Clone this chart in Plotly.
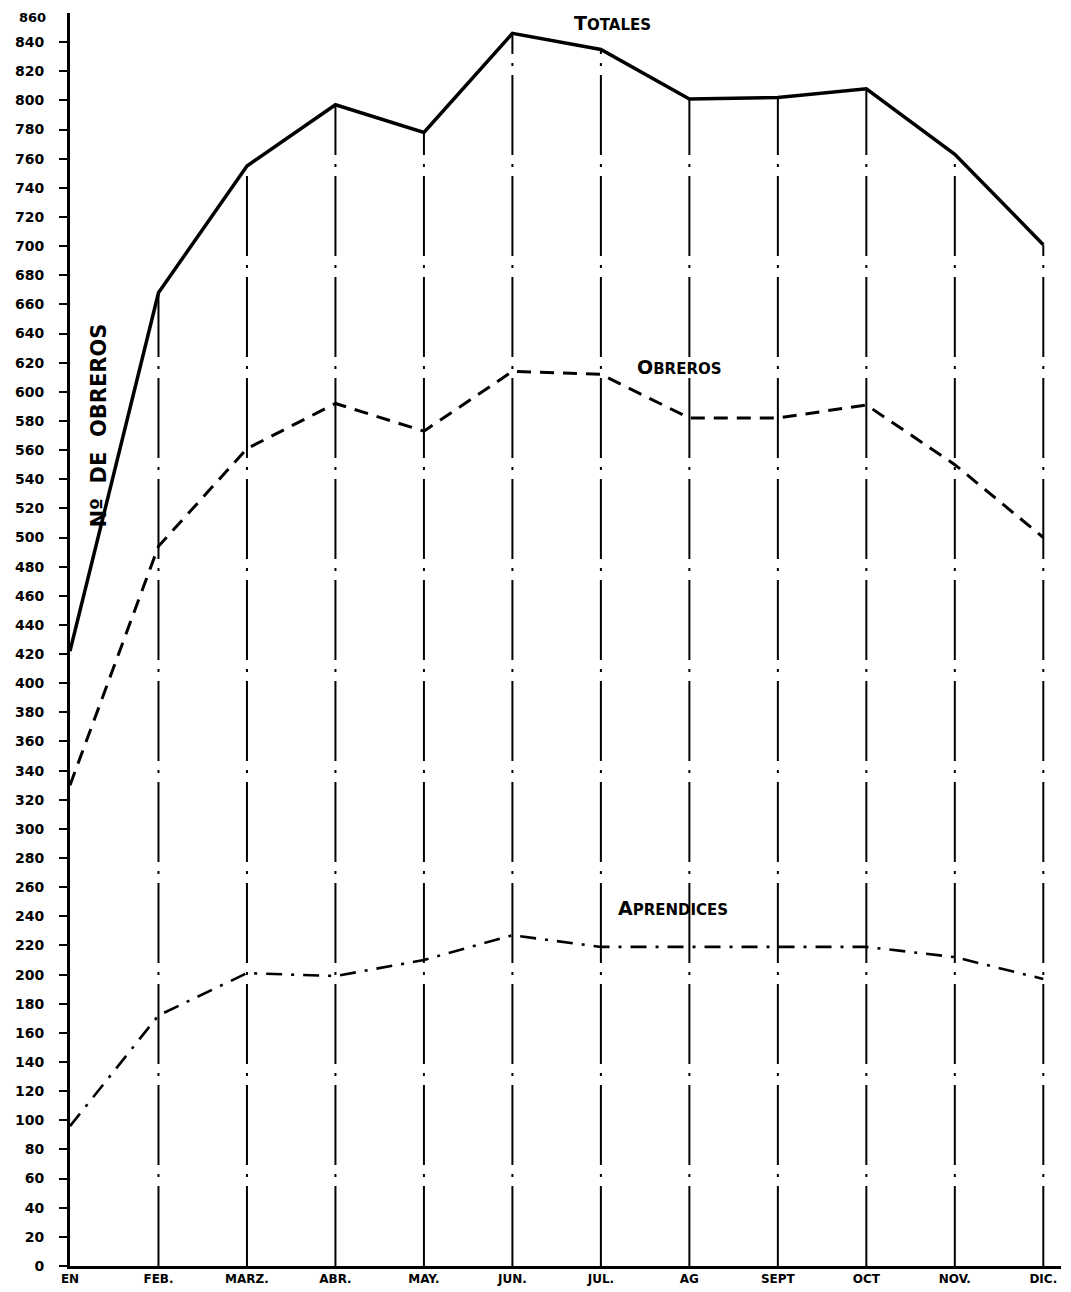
import plotly.graph_objects as go

months = ["EN", "FEB.", "MARZ.", "ABR.", "MAY.", "JUN.", "JUL.", "AG", "SEPT", "OCT", "NOV.", "DIC."]
totales = [422, 668, 755, 797, 778, 846, 835, 801, 802, 808, 763, 701]
obreros = [330, 494, 561, 592, 573, 614, 612, 582, 582, 591, 550, 500]
aprendices = [96, 172, 201, 199, 210, 227, 219, 219, 219, 219, 212, 197]
yticks = list(range(0, 861, 20))

xs = list(range(len(months)))
FONT = "DejaVu Sans"

fig = go.Figure()

# vertical dash-dot guide lines from 0 up to the total at each month
vx, vy = [], []
for i, t in zip(xs[1:], totales[1:]):
    vx += [i, i, None]
    vy += [0, t, None]
fig.add_trace(go.Scatter(x=vx, y=vy, mode="lines",
                         line=dict(color="black", width=2, dash="80px,9px,3px,9px"),
                         hoverinfo="skip", showlegend=False))

fig.add_trace(go.Scatter(x=xs, y=totales, mode="lines", name="Totales",
                         line=dict(color="black", width=3.5), showlegend=False))
fig.add_trace(go.Scatter(x=xs, y=obreros, mode="lines", name="Obreros",
                         line=dict(color="black", width=3, dash="14px,9px"), showlegend=False))
fig.add_trace(go.Scatter(x=xs, y=aprendices, mode="lines", name="Aprendices",
                         line=dict(color="black", width=2.6, dash="16px,9px,3px,9px"), showlegend=False))

def caps(s, big=19, small=15):
    return f"<span style='font-size:{big}px'>{s[0]}</span><span style='font-size:{small}px'>{s[1:]}</span>"

fig.add_annotation(x=6.13, y=853, text="<b>" + caps("TOTALES") + "</b>", showarrow=False,
                   font=dict(family=FONT, color="black"))
fig.add_annotation(x=6.89, y=617, text="<b>" + caps("OBREROS") + "</b>", showarrow=False,
                   font=dict(family=FONT, color="black"))
fig.add_annotation(x=6.81, y=246, text="<b>" + caps("APRENDICES") + "</b>", showarrow=False,
                   font=dict(family=FONT, color="black"))
fig.add_annotation(x=0.33, y=577, text="<b>Nº  DE  OBREROS</b>", showarrow=False, textangle=-90,
                   font=dict(family=FONT, color="black", size=21))

# top tick label (would be clipped at the figure edge as a normal tick label)
fig.add_annotation(x=0, y=yticks[-1], text="<b>" + str(yticks[-1]) + "</b>", showarrow=False,
                   xanchor="right", yanchor="top", xshift=-22, yshift=5,
                   font=dict(family=FONT, color="black", size=13))

fig.update_layout(
    width=1071, height=1292,
    margin=dict(l=62, r=18, t=5, b=34),
    paper_bgcolor="white", plot_bgcolor="white",
    font=dict(family=FONT, color="black"),
    xaxis=dict(range=[0, 11.2], tickmode="array", tickvals=xs, ticktext=["<b>" + m + "</b>" for m in months],
               showgrid=False, zeroline=False, showline=True, linecolor="black", linewidth=3,
               ticks="", tickfont=dict(size=12, family=FONT), automargin=False),
    yaxis=dict(range=[0, 860], tickmode="array", tickvals=yticks[:-1], ticktext=["<b>" + str(v) + "</b>" for v in yticks[:-1]],
               showgrid=False, zeroline=False, showline=True, linecolor="black", linewidth=3,
               ticks="outside", ticklen=8, tickwidth=2, tickcolor="black",
               ticklabelstandoff=12, tickfont=dict(size=14, family=FONT), automargin=False),
)

fig.write_html("out.html")
